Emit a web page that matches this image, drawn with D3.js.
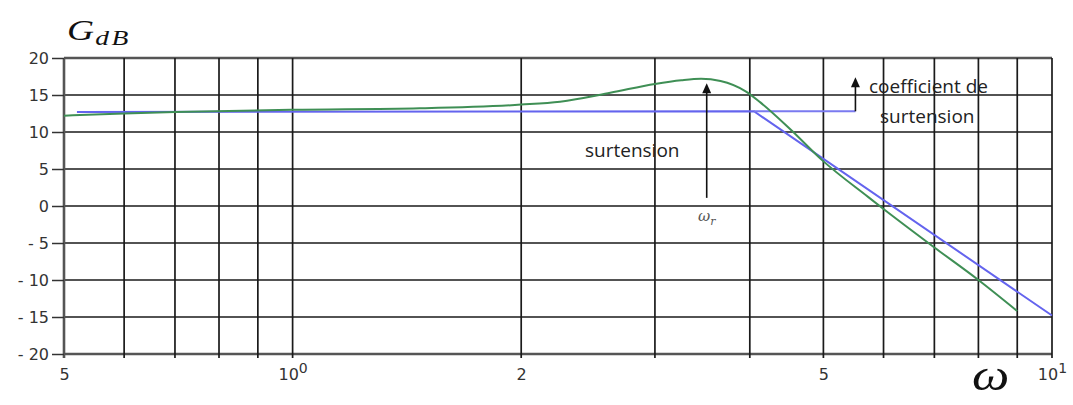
<!DOCTYPE html>
<html>
<head>
<meta charset="utf-8">
<script src="https://cdn.jsdelivr.net/npm/d3@7"></script>
<style>
  html, body { margin: 0; padding: 0; background: #fff; }
  svg { display: block; }
</style>
</head>
<body>
<svg id="chart" width="1073" height="405"></svg>
<script>
// ---------- data ----------
const yTicks = [-20, -15, -10, -5, 0, 5, 10, 15, 20];
const yTickLabels = ["- 20", "- 15", "- 10", "- 5", "0", "5", "10", "15", "20"];
const xGrid = [0.5, 0.6, 0.7, 0.8, 0.9, 1, 2, 3, 4, 5, 6, 7, 8, 9, 10];
const xLabelValues = [0.5, 1, 2, 5, 10];
const xLabelBase = ["5", "10", "2", "5", "10"];
const xLabelExp = ["", "0", "", "", "1"];

// real gain curve (green)
const gainOmega = [0.5, 0.6, 0.7, 1.0, 1.47, 2.0, 2.25, 2.62, 3.0, 3.25, 3.45, 3.66, 3.95, 4.13, 4.53, 4.98, 5.73, 6.0, 7.0, 8.0, 9.0];
const gainDb    = [12.2, 12.5, 12.7, 13.0, 13.2, 13.7, 14.1, 15.3, 16.5, 17.0, 17.2, 16.9, 15.5, 14.0, 10.3, 6.2, 1.2, -0.4, -5.6, -10.0, -14.2];

// asymptotic diagram (blue)
const asymOmega = [0.52, 4.05, 10];
const asymDb    = [12.7, 12.8, -14.8];

// annotations
const overshootOmega = 3.51;        // ω_r arrow
const overshootFrom = 1.1, overshootTo = 16.6;
const coefOmega = 5.51;             // "coefficient de surtension" arrow
const coefFrom = 12.8, coefTo = 17.4;

// ---------- scales ----------
const svg = d3.select("#chart");
const x = d3.scaleLog().domain([0.5, 10]).range([64, 1052]);
const y = d3.scaleLinear().domain([-20, 20]).range([354, 58]);

const labelFont = "'DejaVu Sans', sans-serif";

// ---------- grid ----------
const grid = svg.append("g");
grid.selectAll("line.h").data(yTicks).join("line")
  .attr("x1", x(0.5)).attr("x2", x(10))
  .attr("y1", d => y(d)).attr("y2", d => y(d))
  .attr("stroke", d => (d === 20 || d === -20) ? "#555" : "#1a1a1a")
  .attr("stroke-width", d => (d === 20 || d === -20) ? 2.4 : 1.6);

grid.selectAll("line.v").data(xGrid).join("line")
  .attr("x1", d => x(d)).attr("x2", d => x(d))
  .attr("y1", y(20)).attr("y2", y(-20) + 4)
  .attr("stroke", d => (d === 0.5) ? "#555" : "#1a1a1a")
  .attr("stroke-width", d => (d === 0.5) ? 2.6 : 1.7);

// ---------- axes ----------
const yAxis = d3.axisLeft(y).tickValues(yTicks).tickSize(12).tickPadding(3)
  .tickFormat((d, i) => yTickLabels[i]);
const gy = svg.append("g").attr("transform", `translate(${x(0.5)},0)`).call(yAxis);
gy.select(".domain").remove();
gy.selectAll(".tick line").attr("stroke", "#333").attr("stroke-width", 1.5);
gy.selectAll(".tick text").attr("font-family", labelFont).attr("font-size", 16).attr("fill", "#333");

const xAxis = d3.axisBottom(x).tickValues(xLabelValues).tickSize(0).tickPadding(0)
  .tickFormat(() => "");
const gx = svg.append("g").attr("transform", `translate(0,${y(-20)})`).call(xAxis);
gx.select(".domain").remove();
gx.selectAll(".tick").each(function(d, i) {
  const t = d3.select(this).select("text")
    .attr("font-family", labelFont).attr("font-size", 16).attr("fill", "#333")
    .attr("y", 26).attr("dy", 0)
    .attr("text-anchor", "middle");
  t.append("tspan").text(xLabelBase[i]);
  if (xLabelExp[i]) {
    t.append("tspan").attr("dy", -7).attr("font-size", 14).text(xLabelExp[i]);
  }
});

// ---------- curves ----------
const line = d3.line().x(d => x(d[0])).y(d => y(d[1]));

svg.append("path")
  .datum(asymOmega.map((w, i) => [w, asymDb[i]]))
  .attr("d", line).attr("fill", "none")
  .attr("stroke", "#6464ee").attr("stroke-width", 2);

// blue extension to the "coefficient de surtension" marker
svg.append("path")
  .datum([[asymOmega[1], coefFrom], [coefOmega, coefFrom]])
  .attr("d", line).attr("fill", "none")
  .attr("stroke", "#7a7af0").attr("stroke-width", 2);

svg.append("path")
  .datum(gainOmega.map((w, i) => [w, gainDb[i]]))
  .attr("d", d3.line().x(d => x(d[0])).y(d => y(d[1])).curve(d3.curveMonotoneX))
  .attr("fill", "none")
  .attr("stroke", "#3f8f55").attr("stroke-width", 2);

// ---------- annotations ----------
function arrow(w, from, to) {
  const ax = x(w);
  svg.append("line").attr("x1", ax).attr("x2", ax)
    .attr("y1", y(from)).attr("y2", y(to) + 8)
    .attr("stroke", "#111").attr("stroke-width", 1.6);
  svg.append("path")
    .attr("d", `M${ax},${y(to)} L${ax - 4.5},${y(to) + 10} L${ax + 4.5},${y(to) + 10} Z`)
    .attr("fill", "#111");
}
arrow(overshootOmega, overshootFrom, overshootTo);
arrow(coefOmega, coefFrom, coefTo);

const annFont = "'Open Sans', sans-serif";
svg.append("text").attr("x", 585).attr("y", 157)
  .attr("font-family", annFont).attr("font-size", 19).attr("fill", "#222")
  .text("surtension");
svg.append("text").attr("x", 869).attr("y", 93)
  .attr("font-family", annFont).attr("font-size", 19).attr("fill", "#222")
  .text("coefficient de");
svg.append("text").attr("x", 880).attr("y", 123)
  .attr("font-family", annFont).attr("font-size", 19).attr("fill", "#222")
  .text("surtension");

const wr = svg.append("text").attr("x", x(overshootOmega)).attr("y", 221)
  .attr("text-anchor", "middle")
  .attr("font-family", "'DejaVu Serif', serif").attr("font-style", "italic")
  .attr("font-size", 15).attr("fill", "#555");
wr.append("tspan").text("ω");
wr.append("tspan").attr("dy", 4).attr("font-size", 11).text("r");

// axis titles
const gt = svg.append("text")
  .attr("transform", "translate(67,40) scale(1.25,1)")
  .attr("font-family", "'Liberation Serif', serif").attr("font-style", "italic")
  .attr("fill", "#111");
gt.append("tspan").attr("font-size", 30).text("G");
gt.append("tspan").attr("font-size", 22).attr("dy", 5).attr("dx", 1).attr("letter-spacing", 2).text("dB");

svg.append("text")
  .attr("transform", "translate(972,390) scale(1.2,1)")
  .attr("font-family", "'Liberation Serif', serif").attr("font-style", "italic")
  .attr("font-size", 44).attr("fill", "#111")
  .text("ω");
</script>
</body>
</html>
